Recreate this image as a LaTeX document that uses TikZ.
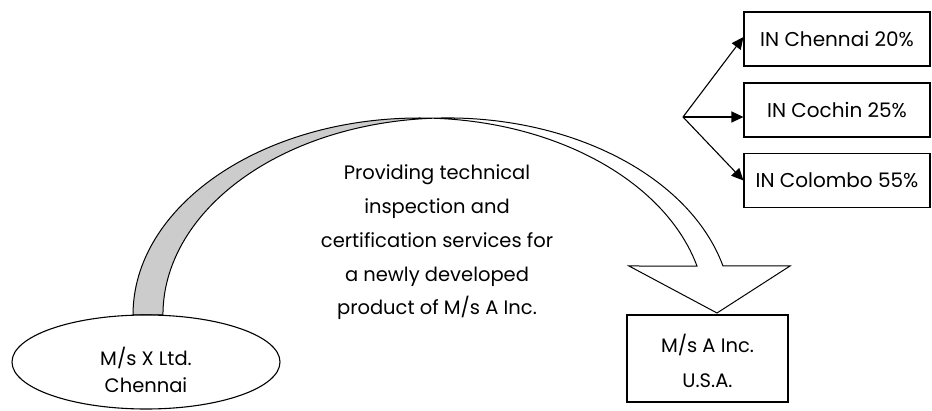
\documentclass[tikz,border=0pt]{standalone}
\usepackage{fontspec}
\setmainfont{Poppins}
\usetikzlibrary{shapes.geometric,arrows.meta}
\definecolor{ribgray}{RGB}{204,204,204}
\tikzset{
  txt/.style={font=\fontsize{19.5}{33.7}\selectfont, align=center},
  rbox/.style={draw, line width=1.1pt, minimum width=186pt, minimum height=54pt, inner sep=0pt, font=\fontsize{20}{24}\selectfont},
  abox/.style={draw, line width=1.1pt, minimum width=161pt, minimum height=87pt, inner sep=0pt},
  boxtext/.style={align=center, inner sep=0pt, font=\fontsize{19.5}{35}\selectfont},
  ell/.style={draw, ellipse, fill=white, line width=1.1pt, minimum width=268pt, minimum height=94pt, inner sep=0pt},
  brarrow/.style={line width=1.1pt, -{Triangle[length=12pt,width=11pt]}},
  ribbon/.style={line width=1pt, line join=miter}
}
\begin{document}
\begin{tikzpicture}[x=1pt,y=-1pt]
\useasboundingbox (0,0) rectangle (932,411);
% curved ribbon arrow
\def\ribbonpath{(133,315) arc[start angle=180,end angle=345.6,x radius=286.5,y radius=197] -- (629,266) -- (717,313) -- (790,266) -- (723,266) arc[start angle=345.6,end angle=180,x radius=284.5,y radius=197] -- cycle}
\fill[white] \ribbonpath;
\begin{scope}
  \clip (0,0) rectangle (433.5,411);
  \fill[ribgray] \ribbonpath;
\end{scope}
\draw[ribbon] \ribbonpath;
% nodes
\node[ell] (x) at (146,362) {};
\node[boxtext, font=\fontsize{19.5}{26.5}\selectfont] (xt) at (146,370) {M/s X Ltd.\\Chennai};
\node[abox] (a) at (707.5,358.5) {};
\node[boxtext] (at) at (707.5,361) {M/s A Inc.\\U.S.A.};
\node[txt] (t) at (437,242.5) {Providing technical\\inspection and\\certification services for\\a newly developed\\product of M/s A Inc.};
\node[rbox] (c1) at (837,39) {IN Chennai 20\%};
\node[rbox] (c2) at (837,110) {IN Cochin 25\%};
\node[rbox] (c3) at (837,180.5) {IN Colombo 55\%};
\coordinate (b) at (683,117);
\draw[brarrow] (b) -- ([yshift=2pt]c1.west);
\draw[brarrow] (b) -- ([yshift=-7pt]c2.west);
\draw[brarrow] (b) -- (c3.west);
\end{tikzpicture}
\end{document}
